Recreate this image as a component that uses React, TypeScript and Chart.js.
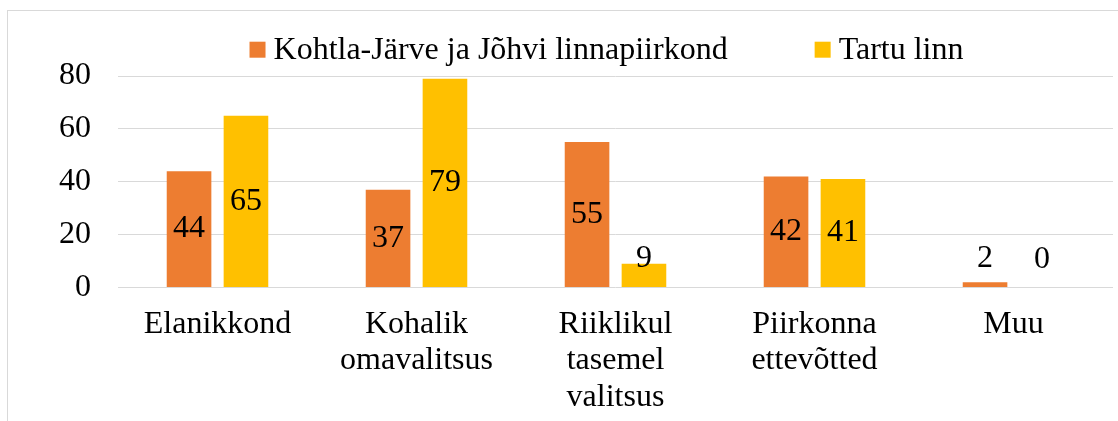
import React, { useEffect, useRef } from "react";
import { Chart, registerables } from "chart.js";

Chart.register(...registerables);

const categories: string[][] = [
  ["Elanikkond"],
  ["Kohalik", "omavalitsus"],
  ["Riiklikul", "tasemel", "valitsus"],
  ["Piirkonna", "ettevõtted"],
  ["Muu"],
];
const seriesNames = ["Kohtla-Järve ja Jõhvi linnapiirkond", "Tartu linn"];
const kohtlaValues = [44, 37, 55, 42, 2];
const tartuValues = [65, 79, 9, 41, 0];
const yMin = 0;
const yMax = 80;
const yStep = 20;

const seriesColors = ["#ED7D31", "#FFC000"];
const FONT = "'Liberation Serif', 'Times New Roman', serif";
const FONT_SIZE = 32;

const framePlugin = {
  id: "frame",
  beforeDraw(chart: any) {
    const ctx = chart.ctx;
    ctx.save();
    ctx.fillStyle = "#ffffff";
    ctx.fillRect(0, 0, chart.width, chart.height);
    ctx.strokeStyle = "#d9d9d9";
    ctx.lineWidth = 1;
    ctx.strokeRect(7.5, 10.5, chart.width + 50, chart.height + 50);
    ctx.restore();
  },
};

const labelPlugin = {
  id: "barLabels",
  afterDatasetsDraw(chart: any) {
    const ctx = chart.ctx;
    ctx.save();
    ctx.font = `${FONT_SIZE}px ${FONT}`;
    ctx.fillStyle = "#000000";
    ctx.textAlign = "center";
    ctx.textBaseline = "middle";
    chart.data.datasets.forEach((ds: any, di: number) => {
      const meta = chart.getDatasetMeta(di);
      meta.data.forEach((el: any, i: number) => {
        const center = (el.y + el.base) / 2;
        const y = Math.min(center, el.base - 28);
        ctx.fillText(String(ds.data[i]), el.x, y);
      });
    });
    ctx.restore();
  },
};

const legendPlugin = {
  id: "customLegend",
  afterDraw(chart: any) {
    const ctx = chart.ctx;
    ctx.save();
    ctx.font = `${FONT_SIZE}px ${FONT}`;
    ctx.textBaseline = "alphabetic";
    ctx.textAlign = "left";
    const box = 16;
    const gap = 8;
    const itemGap = 87;
    const widths = seriesNames.map((n) => ctx.measureText(n).width);
    const total = widths.reduce((a, w) => a + box + gap + w, 0) + itemGap * (widths.length - 1);
    const cx = 606.5;
    const boxTop = 41.7;
    const baseline = 59.3;
    let x = cx - total / 2;
    seriesNames.forEach((name, i) => {
      ctx.fillStyle = seriesColors[i];
      ctx.fillRect(x, boxTop, box, box);
      ctx.fillStyle = "#000000";
      ctx.fillText(name, x + box + gap, baseline);
      x += box + gap + widths[i] + itemGap;
    });
    ctx.restore();
  },
};

export default function App() {
  const canvasRef = useRef<HTMLCanvasElement | null>(null);

  useEffect(() => {
    document.body.style.margin = "0";
    const canvas = canvasRef.current;
    if (!canvas) return;
    const chart = new Chart(canvas, {
      type: "bar",
      data: {
        labels: categories,
        datasets: [
          {
            label: seriesNames[0],
            data: kohtlaValues,
            backgroundColor: seriesColors[0],
            categoryPercentage: 0.572,
            barPercentage: 0.784,
          },
          {
            label: seriesNames[1],
            data: tartuValues,
            backgroundColor: seriesColors[1],
            categoryPercentage: 0.572,
            barPercentage: 0.784,
          },
        ],
      },
      options: {
        responsive: false,
        animation: false,
        devicePixelRatio: 1,
        layout: { padding: { top: 76, right: 5, left: 0, bottom: 0 } },
        plugins: {
          legend: { display: false },
          tooltip: { enabled: false },
        },
        scales: {
          x: {
            grid: { display: false, drawTicks: false },
            border: { display: false },
            ticks: {
              color: "#000000",
              font: { family: FONT, size: FONT_SIZE, lineHeight: 1.14 },
              padding: 18.5,
              maxRotation: 0,
              autoSkip: false,
            },
            afterFit(scale: any) {
              scale.height = 133.5;
            },
          },
          y: {
            min: yMin,
            max: yMax,
            grid: { color: "#d9d9d9", lineWidth: 1, drawTicks: false },
            border: { display: false },
            ticks: {
              stepSize: yStep,
              color: "#000000",
              font: { family: FONT, size: FONT_SIZE },
              padding: 27,
            },
            afterFit(scale: any) {
              scale.width = 118;
            },
          },
        },
      },
      plugins: [framePlugin, labelPlugin, legendPlugin],
    });
    return () => chart.destroy();
  }, []);

  return (
    <div style={{ position: "fixed", left: 0, top: 0, width: 1118, height: 421 }}>
      <canvas ref={canvasRef} width={1118} height={421} />
    </div>
  );
}
